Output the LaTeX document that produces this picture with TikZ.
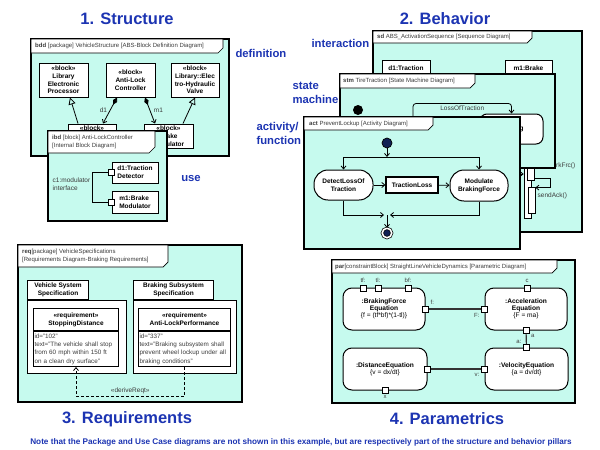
\documentclass[tikz,border=0pt]{standalone}
\usepackage{fontspec}
\setmainfont{Liberation Sans}
\usepackage{tikz}
\usetikzlibrary{positioning}
\usetikzlibrary{arrows.meta}
\definecolor{sysfill}{RGB}{198,250,238}
\definecolor{sysblue}{RGB}{28,52,178}
\definecolor{sysnavy}{RGB}{16,32,84}
\definecolor{systext}{RGB}{60,60,60}

\begin{document}
\begin{tikzpicture}[x=1pt,y=-1pt,
    frame/.style={draw,line width=1.8pt,fill=sysfill},
    tab/.style={draw,line width=0.7pt,fill=white},
    tabtext/.style={anchor=west,inner sep=0pt,align=left,text=systext,font=\fontsize{6}{8}\selectfont},
    pillar/.style={text=sysblue,font=\fontsize{16.5}{18}\selectfont\bfseries},
    kind/.style={text=sysblue,align=left,font=\fontsize{11.3}{14}\selectfont\bfseries},
    block/.style={draw,line width=1pt,fill=white,inner sep=0pt,align=center,font=\fontsize{6.5}{7.7}\selectfont\bfseries},
    part/.style={block,align=left},
    port/.style={draw,line width=0.8pt,fill=white,minimum size=6pt,inner sep=0pt},
    lbl/.style={inner sep=0.5pt,text=systext,font=\fontsize{6.5}{8}\selectfont},
    plabel/.style={inner sep=0.5pt,text=systext,font=\fontsize{6}{7}\selectfont},
    stminit/.style={circle,fill=black,minimum size=10pt,inner sep=0pt},
    actinit/.style={circle,draw,line width=0.7pt,fill=sysnavy,minimum size=10pt,inner sep=0pt},
    actfinal/.style={circle,draw,line width=0.7pt,fill=sysnavy,double=white,double distance=1.6pt,minimum size=9.5pt,inner sep=0pt},
    state/.style={block,rounded corners=7pt},
    action/.style={block,rounded corners=14pt},
    objnode/.style={block,line width=1.3pt},
    actbar/.style={draw,line width=0.8pt,fill=white,minimum width=7pt,inner sep=0pt},
    pkgbody/.style={draw,line width=1pt,fill=white,inner sep=0pt},
    reqbody/.style={draw,line width=1pt,fill=white,inner xsep=1pt,inner ysep=0pt,align=left,text=systext,font=\fontsize{6.3}{8.3}\selectfont},
    constraint/.style={block,rounded corners=9pt,font=\fontsize{6.6}{7}\selectfont},
    conn/.style={draw,line width=0.8pt},
    gen/.style={conn,-{Triangle[open,length=7pt,width=7pt]}},
    comp/.style={conn,{Diamond[length=8pt,width=4.5pt]}-{Straight Barb[length=3pt,width=5pt]}},
    flow/.style={conn,-{Straight Barb[length=3pt,width=5pt]}},
    derive/.style={conn,dash pattern=on 3pt off 2pt,-{Straight Barb[length=3pt,width=5pt]}},
    parconn/.style={draw,line width=1.2pt,black!80}]
  \useasboundingbox (0,0) rectangle (600,450);

  \node[pillar] (structure) at (127,19) {1. Structure};
  \node[pillar] (behavior) at (445,19) {2. Behavior};
  \node[pillar] (requirements) at (127,419) {3. Requirements};
  \node[pillar] (parametrics) at (447,419) {4. Parametrics};
  \node[text=sysblue,font=\fontsize{8.2}{9}\selectfont\bfseries] (note) at (301,442) {Note that the Package and Use Case diagrams are not shown in this example, but are respectively part of the structure and behavior pillars};

  \node[kind,anchor=west] (definition) at (232,53) {definition};
  \node[kind] (use) at (191,179) {use};
  \node[kind,anchor=west] (interaction) at (308,43) {interaction};
  \node[kind,anchor=west] (statemachine) at (289,93) {state\\machine};
  \node[kind,anchor=west] (activity) at (253,133) {activity/\\function};

  \draw[frame] (31,39) rectangle (229,156);
  \draw[tab] (31,39) -- (223,39) -- (223,48) -- (218,53) -- (31,53) -- cycle;
  \node[tabtext] (bddtab) at (35,46) {\textbf{bdd} [package] VehicleStructure [ABS-Block Definition Diagram]};
  \node[block,minimum width=49pt,minimum height=34pt] (lep) at (63.5,80) {«block»\\Library\\Electronic\\Processor};
  \node[block,minimum width=49pt,minimum height=34pt] (alc) at (130.5,80) {«block»\\Anti-Lock\\Controller};
  \node[block,minimum width=48pt,minimum height=34pt] (ehv) at (195,80) {«block»\\Library::Elec\\tro-Hydraulic\\Valve};
  \node[block,minimum width=48pt,minimum height=24pt] (td) at (92,136) {«block»\\Traction\\Detector};
  \node[block,minimum width=49pt,minimum height=24pt] (bm) at (168.5,136) {«block»\\Brake\\Modulator};
  \draw[gen] ([xshift=-14pt]td.north) -- ([xshift=6.5pt]lep.south);
  \draw[gen] ([xshift=14.5pt]bm.north) -- (ehv.south);
  \draw[comp] ([xshift=-13.5pt]alc.south) -- ([xshift=11pt]td.north) node[lbl,midway,left=2pt] (d1lbl) {d1};
  \draw[comp] ([xshift=14.5pt]alc.south) -- ([xshift=-13.5pt]bm.north) node[lbl,midway,right=3pt] (m1lbl) {m1};

  \draw[frame] (48,131) rectangle (167,221);
  \draw[tab] (48,131) -- (155,131) -- (155,147) -- (149,153) -- (48,153) -- cycle;
  \node[tabtext] (ibdtab) at (52,142) {\textbf{ibd} [block] Anti-LockController\\{[Internal Block Diagram]}};
  \node[part,minimum width=46pt,minimum height=21pt] (td1) at (135,172.5) {d1:Traction\\Detector};
  \node[part,minimum width=46pt,minimum height=22pt] (bm1) at (135,202) {m1:Brake\\Modulator};
  \node[port] (p1) at (td1.west) {};
  \node[port] (p2) at (bm1.west) {};
  \draw[conn] (p1.west) -- ++(-16,0) |- (p2.west);
  \node[lbl,anchor=west,align=left] (c1) at (52,184) {c1:modulator\\interface};

  \draw[frame] (373,31) rectangle (582,232);
  \draw[tab] (373,31) -- (532,31) -- (532,38) -- (527,43) -- (373,43) -- cycle;
  \node[tabtext] (sdtab) at (377,37) {\textbf{sd} ABS\_ActivationSequence [Sequence Diagram]};
  \node[block,minimum width=48pt,minimum height=24pt] (sdd1) at (406,72) {d1:Traction\\Detector};
  \node[block,minimum width=47pt,minimum height=24pt] (sdm1) at (528.5,72) {m1:Brake\\Modulator};
  \node[actbar,minimum height=68pt] (bar0) at (527.5,184) {};
  \node[actbar,minimum height=30pt] (bar1) at (531,165) {};
  \node[actbar,minimum height=26pt] (bar2) at (531.5,200) {};
  \coordinate (brkin) at ([yshift=10pt]bar0.west);
  \draw[flow] (sdd1 |- brkin) -- (brkin);
  \draw[flow] ([yshift=2pt]bar1.south east) -- ++(15,0) |- ([yshift=-1pt]bar2.north east);
  \node[lbl,anchor=west] (sendack) at (537,196) {sendAck()};
  \node[lbl,anchor=east] (modbrk) at (576,166) {modBrkFrc()};

  \draw[frame] (340,74) rectangle (555,168);
  \draw[tab] (340,74) -- (475,74) -- (475,83) -- (470,88) -- (340,88) -- cycle;
  \node[tabtext] (stmtab) at (343,81) {\textbf{stm} TireTraction [State Machine Diagram]};
  \node[stminit] (stmstart) at (358,110) {};
  \node[state,minimum width=63pt,minimum height=30pt] (brk) at (511.5,129) {Braking};
  \coordinate (lotsrc) at (413,122);
  \draw[flow,rounded corners=3pt] (lotsrc) |- ([yshift=10pt]brk.north) node[lbl,pos=0.75,below=1pt] (lotlbl) {LossOfTraction} -- (brk.north);

  \draw[frame] (304,117) rectangle (520,249);
  \draw[tab] (304,117) -- (433,117) -- (433,125) -- (428,130) -- (304,130) -- cycle;
  \node[tabtext] (acttab) at (309,124) {\textbf{act} PreventLockup [Activity Diagram]};
  \node[actinit] (start) at (387,143) {};
  \node[actfinal] (stop) at (387,233) {};
  \node[action,minimum width=59pt,minimum height=30pt] (dlt) at (343.5,185) {DetectLossOf\\Traction};
  \node[objnode,minimum width=52pt,minimum height=16pt] (tl) at (412,185) {TractionLoss};
  \node[action,minimum width=58pt,minimum height=31pt] (mbf) at (479,185.5) {Modulate\\BrakingForce};
  \coordinate (split) at (387,157);
  \coordinate (join) at (387,215);
  \draw[flow] (start) -- (split);
  \draw[flow] (split) -| (dlt);
  \draw[flow] (split) -| (mbf);
  \draw[flow] (dlt) -- (tl);
  \draw[flow] (tl) -- (mbf);
  \draw[flow,shorten >=3pt] (dlt) |- (join);
  \draw[flow,shorten >=3pt] (mbf) |- (join);
  \draw[flow] (join) -- (stop);

  \draw[frame] (18,245) rectangle (242,402);
  \draw[tab] (18,245) -- (168,245) -- (168,262) -- (163,267) -- (18,267) -- cycle;
  \node[tabtext] (reqtab) at (22,256) {\textbf{req}[package] VehicleSpecifications\\{[Requirements Diagram-Braking Requirements]}};
  \node[pkgbody,minimum width=99pt,minimum height=73pt,anchor=north west] (vssbody) at (27,300) {};
  \node[block,minimum width=61pt,minimum height=19pt,anchor=south west] (vsstab) at (vssbody.north west) {Vehicle System\\Specification};
  \node[pkgbody,minimum width=103pt,minimum height=73pt,anchor=north west] (bssbody) at (133,300) {};
  \node[block,minimum width=80pt,minimum height=19pt,anchor=south west] (bsstab) at (bssbody.north west) {Braking Subsystem\\Specification};
  \node[block,minimum width=85pt,minimum height=22pt,anchor=north west] (sdhead) at (33,308) {«requirement»\\StoppingDistance};
  \node[reqbody,text width=83pt,minimum height=35pt,anchor=north] (sdbody) at (sdhead.south) {id="102"\\text="The vehicle shall stop\\from 60 mph within 150 ft\\on a clean dry surface"};
  \node[block,minimum width=92pt,minimum height=22pt,anchor=north west] (alhead) at (138,308) {«requirement»\\Anti-LockPerformance};
  \node[reqbody,text width=90pt,minimum height=35pt,anchor=north] (albody) at (alhead.south) {id="337"\\text="Braking subsystem shall\\prevent wheel lockup under all\\braking conditions"};
  \draw[derive] (albody.south) -- ++(0,29) -| (sdbody.south) node[lbl,pos=0.25,above=1pt] (derivelbl) {«deriveReqt»};

  \draw[frame] (332,260) rectangle (575,403);
  \draw[tab] (332,260) -- (557,260) -- (557,268) -- (552,273) -- (332,273) -- cycle;
  \node[tabtext] (partab) at (335,267) {\textbf{par}[constraintBlock] StraightLineVehicleDynamics [Parametric Diagram]};
  \node[constraint,minimum width=82pt,minimum height=42pt] (bfe) at (384,309) {\textbf{:BrakingForce}\\\textbf{Equation}\\\mdseries\{f = (tf*bf)*(1-tl)\}};
  \node[constraint,minimum width=82pt,minimum height=42pt] (acc) at (526,309) {\textbf{:Acceleration}\\\textbf{Equation}\\\mdseries\{F = ma\}};
  \node[constraint,minimum width=84pt,minimum height=42pt] (dist) at (385,369) {\textbf{:DistanceEquation}\\\mdseries\{v = dx/dt\}};
  \node[constraint,minimum width=83pt,minimum height=42pt] (vel) at (526.5,369) {\textbf{:VelocityEquation}\\\mdseries\{a = dv/dt\}};
  \node[port] (ptf) at (363,288) {};
  \node[port] (ptl) at (378,288) {};
  \node[port] (pbf) at (408,288) {};
  \node[port] (pbfe) at (bfe.east) {};
  \node[port] (pacc) at (527,288) {};
  \node[port] (pacf) at (acc.west) {};
  \node[port] (paca) at (acc.south) {};
  \node[port] (pvela) at (vel.north) {};
  \node[port] (pvelv) at (vel.west) {};
  \node[port] (pdistv) at (dist.east) {};
  \node[port] (pdistx) at (dist.south) {};
  \node[plabel,above=1pt of ptf] (ltf) {tf:};
  \node[plabel,above=1pt of ptl] (ltl) {tl:};
  \node[plabel,above=1pt of pbf] (lbf) {bf:};
  \node[plabel,above=1pt of pacc] (lc) {c};
  \node[plabel,above right=0pt and 1pt of pbfe] (lf) {f:};
  \node[plabel,below left=0pt and 1pt of pacf] (lF) {F:};
  \node[plabel,below right=0pt and 1pt of paca] (la) {a};
  \node[plabel,above left=0pt and 1pt of pvela] (la2) {a:};
  \node[plabel,below left=0pt and 1pt of pvelv] (lv) {v:};
  \node[plabel,below=1pt of pdistx] (lx) {x};
  \draw[parconn] (pbfe) -- (pacf);
  \draw[parconn] (paca) -- (pvela);
  \draw[parconn] (pdistv) -- (pvelv);
\end{tikzpicture}
\end{document}
